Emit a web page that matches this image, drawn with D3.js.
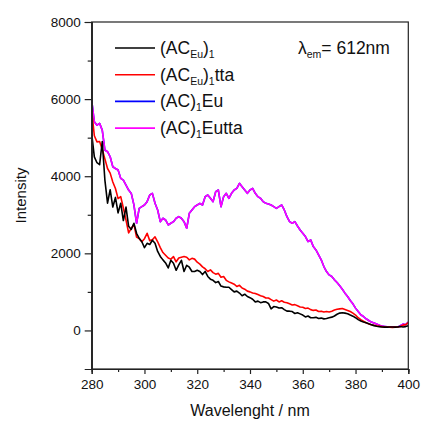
<!DOCTYPE html>
<html>
<head>
<meta charset="utf-8">
<script src="https://cdn.jsdelivr.net/npm/d3@7"></script>
<style>
  html, body { margin: 0; padding: 0; background: #fff; }
  svg { display: block; font-family: "Liberation Sans", Arial, sans-serif; }
</style>
</head>
<body>
<svg id="chart" width="422" height="423"></svg>
<script>
// Excitation spectra, monitored at 612 nm, wavelength 280–400 nm in 1 nm steps
const wavelengthStart = 280;
const wavelengthEnd = 400;

const xTickValues = [280, 300, 320, 340, 360, 380, 400];
const yTickValues = [0, 2000, 4000, 6000, 8000];

// (AC_Eu)_1
const acEu1 = [
  5100, 4500, 4350, 4300, 4900, 3900, 3300, 3650, 3200, 3450,
  3050, 3300, 2850, 3200, 2700, 2620, 2780, 2520, 2390, 2300,
  2150, 2260, 2230, 2340, 2261, 2050, 1920, 1830, 1750, 1620,
  1820, 1744, 1560, 1700, 1820, 1530, 1690, 1640, 1530, 1528,
  1560, 1530, 1450, 1530, 1400, 1330, 1300, 1240, 1269, 1150,
  1130, 1120, 1120, 1060, 1000, 1020, 970, 900, 940, 880,
  850, 810, 740, 760, 720, 740, 740, 700, 560, 620,
  610, 580, 590, 540, 500, 500, 490, 440, 460, 430,
  400, 350, 375, 330, 330, 340, 310, 320, 300, 310,
  330, 345, 375, 420, 450, 460, 449, 435, 400, 370,
  330, 280, 245, 220, 200, 172, 150, 125, 110, 100,
  88, 86, 86, 88, 90, 86, 92, 104, 88, 100,
  121
];

// (AC_Eu)_1 tta
const acEu1tta = [
  5700, 5050, 4890, 4900, 4700, 4450, 4200, 4080, 3850, 3680,
  3420, 3470, 3175, 2860, 2530, 2650, 2750, 2420, 2380, 2300,
  2380, 2520, 2330, 2350, 2430, 2300, 2150, 2020, 1950, 1880,
  1850, 1916, 1780, 1880, 1900, 1916, 1900, 1830, 1870, 1850,
  1770, 1720, 1650, 1600, 1530, 1570, 1500, 1460, 1480, 1380,
  1400, 1300, 1260, 1230, 1200, 1140, 1170, 1100, 1070, 1020,
  1000, 970, 960, 930, 900, 880, 840, 840, 800, 760,
  790, 740, 770, 730, 720, 690, 660, 670, 640, 610,
  600, 570, 580, 540, 520, 530, 490, 500, 480, 490,
  480, 500, 530, 550, 560, 570, 545, 520, 490, 450,
  400, 330, 280, 240, 200, 170, 150, 135, 120, 110,
  100, 95, 90, 86, 80, 86, 90, 104, 138, 150,
  200
];

// (AC)_1 Eutta
const ac1Eutta = [
  5970, 5410, 5325, 5370, 5195, 4680, 4635, 4505, 4245, 4200,
  4160, 3945, 3900, 3770, 3640, 3555, 3255, 2780, 3167, 3210,
  3254, 3340, 3513, 3556, 3297, 3124, 2822, 2909, 2865, 2736,
  2779, 2822, 2909, 2952, 2909, 2822, 2650, 3038, 3124, 3210,
  3254, 3297, 3254, 3470, 3513, 3426, 3340, 3599, 3642, 3210,
  3470, 3556, 3426, 3556, 3642, 3685, 3815, 3728, 3642, 3556,
  3642, 3685, 3556, 3470, 3426, 3340, 3297, 3280, 3254, 3210,
  3167, 3210, 3254, 3124, 2952, 2822, 2779, 2822, 2710, 2606,
  2520, 2434, 2304, 2348, 2175, 2089, 1960, 1830, 1657, 1528,
  1441, 1398, 1312, 1243, 1157, 1070, 967, 880, 777, 691,
  579, 492, 406, 362, 302, 259, 216, 190, 164, 138,
  112, 104, 95, 86, 86, 95, 86, 121, 164, 147,
  216
];

// (AC)_1 Eu is plotted beneath (AC)_1 Eutta and shares its trace
const ac1Eu = ac1Eutta.slice();

const seriesNames = ["(AC_Eu)_1", "(AC_Eu)_1tta", "(AC)_1Eu", "(AC)_1Eutta"];
const seriesColors = ["#000000", "#ff0000", "#0000ff", "#ff00ff"];
const seriesValues = [acEu1, acEu1tta, ac1Eu, ac1Eutta];

const svg = d3.select("#chart");
const plot = { left: 91.7, right: 408.3, top: 22, bottom: 369 };

const x = d3.scaleLinear().domain([280, 400]).range([plot.left, plot.right]);
const y = d3.scaleLinear().domain([-1000, 8000]).range([plot.bottom, plot.top]);

svg.append("defs").append("clipPath").attr("id", "plot-clip")
  .append("rect")
  .attr("x", plot.left).attr("y", plot.top)
  .attr("width", plot.right - plot.left).attr("height", plot.bottom - plot.top);

const line = d3.line()
  .x((d, i) => x(wavelengthStart + i))
  .y(d => y(d));

// Traces: blue first so the magenta trace lies on top; black drawn last
const drawOrder = [2, 3, 1, 0];
const traces = svg.append("g").attr("clip-path", "url(#plot-clip)");
drawOrder.forEach(k => {
  traces.append("path")
    .datum(seriesValues[k])
    .attr("fill", "none")
    .attr("stroke", seriesColors[k])
    .attr("stroke-width", 1.6)
    .attr("stroke-linejoin", "round")
    .attr("d", line);
});

// Frame
svg.append("rect")
  .attr("x", plot.left).attr("y", plot.top)
  .attr("width", plot.right - plot.left).attr("height", plot.bottom - plot.top)
  .attr("fill", "none").attr("stroke", "#222").attr("stroke-width", 1.2);

// Bottom axis
svg.append("g")
  .attr("transform", `translate(0,${plot.bottom})`)
  .call(d3.axisBottom(x).tickValues(xTickValues).tickSize(5).tickPadding(5).tickFormat(d3.format("d")));
svg.append("g")
  .attr("transform", `translate(0,${plot.bottom})`)
  .call(d3.axisBottom(x).tickValues(d3.range(290, 400, 20)).tickSize(3).tickFormat(""));

// Left axis
svg.append("g")
  .attr("transform", `translate(${plot.left},0)`)
  .call(d3.axisLeft(y).tickValues(yTickValues).tickSize(7).tickPadding(4).tickFormat(d3.format("d")));
svg.append("g")
  .attr("transform", `translate(${plot.left},0)`)
  .call(d3.axisLeft(y).tickValues([1000, 3000, 5000, 7000]).tickSize(4).tickFormat(""));

svg.selectAll(".domain").attr("stroke", "#222").attr("stroke-width", 1.2);
svg.selectAll(".tick line").attr("stroke", "#222").attr("stroke-width", 1.2);
svg.selectAll(".tick text")
  .attr("fill", "#111")
  .style("font-family", "'Liberation Sans', Arial, sans-serif")
  .style("font-size", "13.5px");

// Axis titles
svg.append("text")
  .attr("x", (plot.left + plot.right) / 2).attr("y", 416)
  .attr("text-anchor", "middle")
  .attr("font-size", 16).attr("fill", "#111")
  .text("Wavelenght / nm");

svg.append("text")
  .attr("transform", `translate(26,${(plot.top + plot.bottom) / 2}) rotate(-90)`)
  .attr("text-anchor", "middle")
  .attr("font-size", 15).attr("fill", "#111")
  .text("Intensity");

// Legend
const legendRows = [
  [["(AC", "n"], ["Eu", "s"], [")", "n"], ["1", "s"]],
  [["(AC", "n"], ["Eu", "s"], [")", "n"], ["1", "s"], ["tta", "n"]],
  [["(AC)", "n"], ["1", "s"], ["Eu", "n"]],
  [["(AC)", "n"], ["1", "s"], ["Eutta", "n"]]
];
const legend = svg.append("g");
legendRows.forEach((parts, i) => {
  const cy = 48 + i * 26.7;
  legend.append("line")
    .attr("x1", 115).attr("x2", 155)
    .attr("y1", cy).attr("y2", cy)
    .attr("stroke", seriesColors[i]).attr("stroke-width", 1.6);
  const t = legend.append("text")
    .attr("x", 160).attr("y", cy + 6)
    .attr("font-size", 17.5).attr("fill", "#111");
  parts.forEach(([s, kind], j) => {
    const ts = t.append("tspan").text(s);
    if (kind === "s") {
      ts.attr("font-size", 10.5).attr("dy", 4);
    } else if (j > 0 && parts[j - 1][1] === "s") {
      ts.attr("dy", -4);
    }
  });
});

// Emission wavelength note
const note = svg.append("text")
  .attr("x", 298).attr("y", 54)
  .attr("font-size", 17.5).attr("fill", "#111");
note.append("tspan").text("λ");
note.append("tspan").attr("font-size", 10.5).attr("dy", 4).text("em");
note.append("tspan").attr("dy", -4).text("= 612nm");
</script>
</body>
</html>
